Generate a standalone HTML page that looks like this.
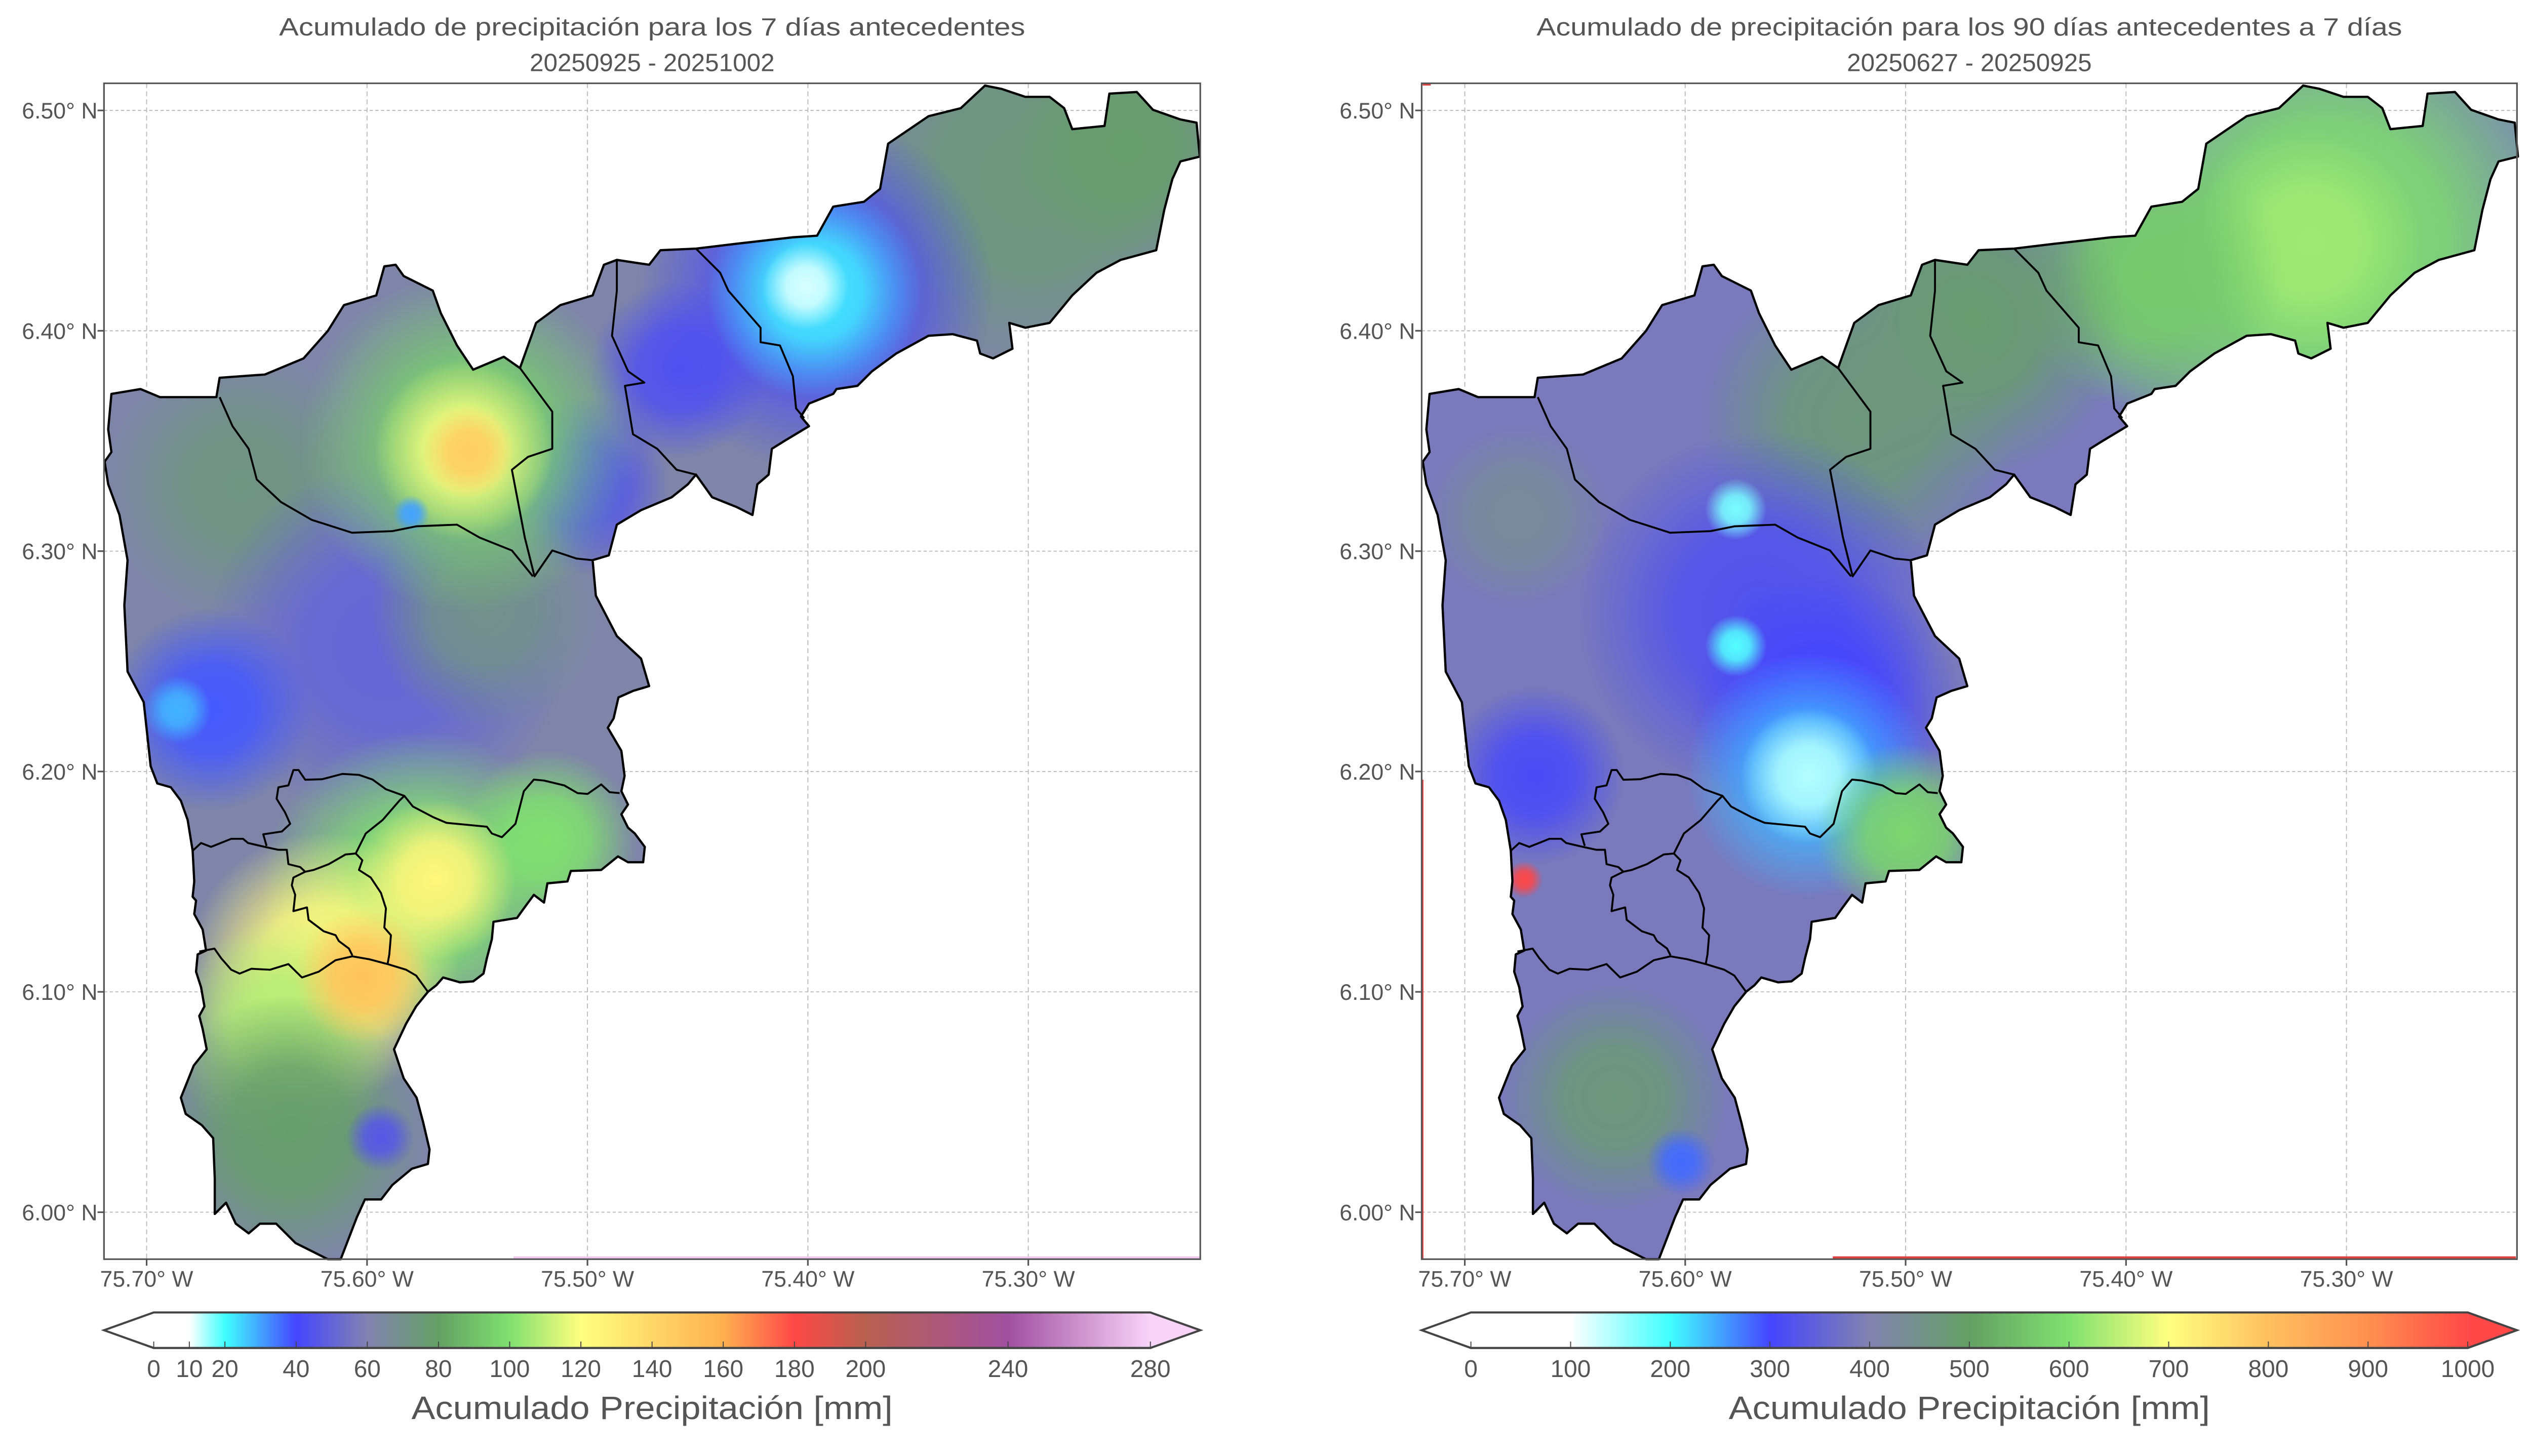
<!DOCTYPE html>
<html><head><meta charset="utf-8"><style>
html,body{margin:0;padding:0;background:#fff;overflow:hidden;}
svg{display:block;position:absolute;left:0;top:0;}
text{font-family:"Liberation Sans",sans-serif;fill:#555;}
</style></head><body>
<svg id="svgroot" xmlns="http://www.w3.org/2000/svg" width="5044" height="2876" viewBox="0 0 5044 2876" preserveAspectRatio="none">
<defs id="defs"></defs>
<g id="root" transform="scale(3.216837)"></g>
</svg>
<script>
// ---- data arrays ----
const latTicks = [6.50, 6.40, 6.30, 6.20, 6.10, 6.00];
const lonTicks = [75.70, 75.60, 75.50, 75.40, 75.30];
const cbTicksLeft = [0, 10, 20, 40, 60, 80, 100, 120, 140, 160, 180, 200, 240, 280];
const cbTicksRight = [0, 100, 200, 300, 400, 500, 600, 700, 800, 900, 1000];
const cmapLeftVals = [0, 10, 20, 40, 60, 80, 100, 120, 160, 180, 200, 240, 280];
const cmapLeftCols = ['#ffffff','#ffffff','#40ffff','#4545ff','#8282b0','#64a064','#80e070','#ffff80','#ffb050','#ff4848','#b86050','#a050a0','#f8d4f8'];
const cmapRightVals = [0, 100, 200, 300, 400, 500, 600, 700, 800, 900, 1000];
const cmapRightCols = ['#ffffff','#ffffff','#40ffff','#4545ff','#8282b0','#64a064','#80e070','#ffff80','#ffc060','#ff9050','#ff4848'];
// blobs: lonW, lat, radius(deg), value
const leftBlobLon = [75.298,75.254,75.459,75.503,75.657,75.591,75.547,75.518,75.576,75.620,75.638,75.635,75.671,75.686,75.397,75.397,75.401,75.554,75.556,75.554,75.580,75.569,75.602,75.594];
const leftBlobLat = [6.470,6.484,6.382,6.330,6.330,6.257,6.272,6.169,6.147,6.111,6.081,6.037,6.228,6.228,6.418,6.418,6.420,6.349,6.346,6.345,6.317,6.151,6.107,6.034];
const leftBlobR   = [0.066,0.037,0.029,0.029,0.044,0.059,0.037,0.029,0.051,0.044,0.037,0.044,0.033,0.011,0.058,0.035,0.014,0.055,0.029,0.015,0.006,0.026,0.022,0.011];
const leftBlobVal = [74,78,44,44,72,50,70,100,100,122,108,78,38,28,42,22,12,95,118,145,30,124,150,46];
const leftBase = 62;
const rightBlobLon = [75.309,75.317,75.390,75.471,75.522,75.676,75.566,75.536,75.668,75.544,75.577,75.577,75.544,75.500,75.632,75.602,75.673];
const rightBlobLat = [6.440,6.440,6.425,6.404,6.360,6.316,6.272,6.228,6.198,6.198,6.319,6.257,6.198,6.172,6.052,6.023,6.151];
const rightBlobR   = [0.088,0.037,0.044,0.051,0.051,0.030,0.059,0.044,0.029,0.040,0.010,0.010,0.022,0.029,0.037,0.011,0.006];
const rightBlobVal = [595,625,565,485,470,430,320,300,310,240,170,190,140,585,470,280,1000];
const rightBase = 385;

// ---- viewport compensation ----
(function(){
  const s=Math.min(1,(window.innerWidth||5044)/5044,(window.innerHeight||2876)/2876);
  const sv=document.getElementById('svgroot');
  sv.setAttribute('width',5044*s);
  sv.setAttribute('height',2876*s);
})();

const NS='http://www.w3.org/2000/svg';
const root=document.getElementById('root');
const defs=document.getElementById('defs');
function el(tag,attrs,parent){const e=document.createElementNS(NS,tag);for(const k in attrs)e.setAttribute(k,attrs[k]);(parent||root).appendChild(e);return e;}
const outline=[[69,244],[87,241],[99,246],[134,246],[136,234],[164,232],[188,222],[203,205],[213,189],[233,183],[238,165],[245,164],[250,171],[268,180],[273,194],[283,214],[293,229],[312,221],[322,228],[332,200],[347,189],[367,183],[374,164],[382,161],[402,164],[409,155],[431,154],[456,151],[491,147],[506,146],[516,128],[535,125],[545,117],[550,89],[575,72],[595,67],[610,53],[620,55],[635,60],[650,60],[659,67],[664,80],[684,78],[687,58],[704,57],[714,68],[731,74],[741,76],[743,97],[731,100],[726,111],[721,130],[716,155],[694,161],[679,169],[664,183],[650,200],[635,203],[625,200],[627,216],[615,222],[607,219],[605,211],[590,207],[575,208],[555,219],[540,230],[531,239],[518,241],[516,244],[501,250],[496,258],[501,264],[486,273],[478,278],[476,294],[469,300],[466,319],[456,314],[441,308],[431,294],[426,300],[416,308],[397,316],[382,325],[377,344],[367,347],[369,369],[382,394],[397,408],[402,425],[392,428],[383,432],[380,445],[376.4,450.8],[384.8,465.1],[386.8,480.6],[384.8,490.1],[388.9,498.4],[384.8,504.4],[388.9,512.7],[393.1,516.3],[399.3,524.6],[398.3,534.1],[388.9,534.1],[382.7,530.5],[372.3,538.9],[353.5,539.5],[351.4,546],[339,547.2],[336.9,559.1],[330.6,554.3],[324.4,562.7],[320.2,568.6],[305.6,571],[304.6,581.7],[301.5,593.6],[299.4,603.1],[293.1,607.9],[284.8,608.5],[274.4,605.5],[270.2,610.3],[265,614.4],[257.7,623.4],[251.5,634.1],[244,650],[250,668],[258,680],[262,695],[266,712],[265,721],[255,724],[243,734],[236,743],[226,743],[221,754],[211,780],[203,780],[193,775],[183,770],[171,758],[161,758],[154,764],[146,758],[140,745],[133,752],[133,730],[132,705],[125,697],[115,690],[112,680],[120,660],[128,650],[125.5,637.4],[123.4,629.3],[126.6,623.4],[124.5,611.5],[121.4,601.9],[122.4,591.2],[127.6,588.8],[125.5,575.8],[120.3,566.2],[121.4,557.9],[119.3,555.5],[120.3,546],[119.3,527],[116.2,507.9],[112,496],[105.8,487.7],[97.4,485.3],[93.3,474.6],[89,435],[79,416],[77,375],[79,347],[74,319],[67,300],[64.8,286],[69,280],[67,266]];
const inner=[
[[136,246],[144,264],[154,278],[159,297],[174,311],[193,322],[218,330],[243,329],[258,326],[283,325],[297,333],[317,341],[330,357]],
[[322,228],[342,255],[342,278],[327,283],[317,291],[325,333],[331,357],[342,341],[357,346],[367,347]],
[[382,161],[382,180],[379,208],[389,230],[399,237],[387,239],[392,269],[407,278],[419,291],[431,294]],
[[431,154],[446,169],[451,180],[471,203],[471,212],[483,214],[491,233],[493,253],[498,259]],
[[119.3,527],[124.5,522.2],[130.7,524.6],[143.2,519.6],[150.5,519.6],[153.6,522.2],[164,524.6],[172.4,526.4],[177.6,526.4],[178.6,535.3],[185.9,537.1],[189,540],[194.2,538.9],[203.6,535.3],[214,529.3],[220.3,528.7],[226.5,516.3],[236.9,508],[247.3,496],[250.4,493],[255.7,499.6],[268.1,506.1],[276.5,509.7],[289,510.9],[301.5,512.1],[304.6,516.3],[310.8,518.6],[319.2,510.3],[324.4,490.1],[330.6,482.9],[336.8,483.5],[349.4,486.5],[357.7,491.3],[363.9,491.8],[372.3,485.9],[377.5,490.7],[383.7,491.3]],
[[250.4,493],[239,488.9],[230.7,482.9],[222.3,480],[212,479.4],[199.4,482.7],[189,483],[184.9,477],[181.7,477],[178.6,486.5],[172.4,487.7],[171.3,494.8],[176.5,503.2],[179.7,510.3],[174.5,515.1],[163,516.8],[165.1,524]],
[[220.3,528.7],[224.4,532.9],[222.3,538.9],[229.6,543.6],[235.9,553.1],[239,562.7],[238,574.6],[242.1,579.3],[241.1,591.2],[240,597.2]],
[[189,540],[181.7,543.6],[180.7,548.4],[182.8,554.3],[181.7,564.4],[190.1,562.1],[191.1,569.8],[200.5,576.9],[207.8,579.3],[209.8,582.9],[216.1,587.6],[218.2,591.8]],
[[123.4,589.4],[132.8,587.6],[137,593.6],[143.2,600.7],[148.4,603.1],[155.7,600.1],[167.2,600.7],[178.6,597.2],[187,605.5],[197.4,601.9],[207.8,594.8],[218.2,592.4],[228.6,594.2],[240,597.2],[251.5,600.7],[257.7,604.3],[265,614.4]]
];
function pts(a){return a.map(p=>p[0].toFixed(1)+','+p[1].toFixed(1)).join(' ');}
function hex2rgb(h){return [1,3,5].map(i=>parseInt(h.substr(i,2),16));}
function cmap(v,vals,cols){
  if(v<=vals[0])return cols[0]; if(v>=vals[vals.length-1])return cols[cols.length-1];
  for(let i=0;i<vals.length-1;i++){if(v<=vals[i+1]){const t=(v-vals[i])/(vals[i+1]-vals[i]);const a=hex2rgb(cols[i]),b=hex2rgb(cols[i+1]);return 'rgb('+a.map((x,j)=>Math.round(x+(b[j]-x)*t)).join(',')+')';}}
}
const SC=1365;
const Y0=68.4;
const AX_T=51.6, AX_B=780;
const panels=[
 {id:'left',x0:64.4,x1:743.3,lon0x:90.8,off:0,title1:'Acumulado de precipitación para los 7 días antecedentes',title2:'20250925 - 20251002',tl:462,
  blobLon:leftBlobLon,blobLat:leftBlobLat,blobR:leftBlobR,blobVal:leftBlobVal,base:leftBase,vals:cmapLeftVals,cols:cmapLeftCols,ticks:cbTicksLeft,cbx0:95.2,cbx1:712.4,vmax:280,extR:'#f8d4f8'},
 {id:'right',x0:880.4,x1:1558.7,lon0x:907.1,off:816.3,title1:'Acumulado de precipitación para los 90 días antecedentes a 7 días',title2:'20250627 - 20250925',tl:536,
  blobLon:rightBlobLon,blobLat:rightBlobLat,blobR:rightBlobR,blobVal:rightBlobVal,base:rightBase,vals:cmapRightVals,cols:cmapRightCols,ticks:cbTicksRight,cbx0:910.9,cbx1:1528.2,vmax:1000,extR:'#ff4848'}
];
panels.forEach(P=>{
  const xOf=lonW=>P.lon0x+(75.70-lonW)*SC;
  const yOf=lat=>Y0+(6.50-lat)*SC;
  const cx=(P.x0+P.x1)/2;
  const g=el('g',{});
  
  
  const t1=el('text',{x:cx,y:22,'text-anchor':'middle','font-size':15.5,textLength:P.tl,lengthAdjust:'spacingAndGlyphs'},g);t1.textContent=P.title1;
  
  
  const t2=el('text',{x:cx,y:44,'text-anchor':'middle','font-size':15.5},g);t2.textContent=P.title2;
  
  
  latTicks.forEach(lat=>{const y=yOf(lat);
    const l=el('line',{x1:P.x0,x2:P.x1,y1:y,y2:y,stroke:'#bbb','stroke-width':0.6,'stroke-dasharray':'2,1.5'},g);
    
    
    el('line',{x1:P.x0-4,x2:P.x0,y1:y,y2:y,stroke:'#555','stroke-width':1},g);
    const tx=el('text',{x:P.x0-4,y:y+5,'text-anchor':'end','font-size':14},g);tx.textContent=lat.toFixed(2)+'° N';
    
    
  });
  lonTicks.forEach(lon=>{const x=xOf(lon);
    const l=el('line',{x1:x,x2:x,y1:AX_T,y2:AX_B,stroke:'#bbb','stroke-width':0.6,'stroke-dasharray':'3,2'},g);
    
    
    el('line',{x1:x,x2:x,y1:AX_B,y2:AX_B+4,stroke:'#555','stroke-width':1},g);
    const tx=el('text',{x:x,y:797,'text-anchor':'middle','font-size':14},g);tx.textContent=lon.toFixed(2)+'° W';
    
    
  });
  const cp=el('clipPath',{id:'clip-'+P.id},defs);
  el('polygon',{points:pts(outline),transform:'translate('+P.off+',0)'},cp);
  const field=el('g',{'clip-path':'url(#clip-'+P.id+')'},g);
  
  
  el('polygon',{points:pts(outline),transform:'translate('+P.off+',0)',fill:cmap(P.base,P.vals,P.cols)},field);
  P.blobVal.forEach((v,i)=>{
    const gid='rg-'+P.id+'-'+i;const col=cmap(v,P.vals,P.cols);
    const rg=el('radialGradient',{id:gid},defs);
    el('stop',{offset:0,'stop-color':col,'stop-opacity':1},rg);
    el('stop',{offset:0.45,'stop-color':col,'stop-opacity':0.85},rg);
    el('stop',{offset:1,'stop-color':col,'stop-opacity':0},rg);
    const c=el('circle',{cx:xOf(P.blobLon[i]),cy:yOf(P.blobLat[i]),r:P.blobR[i]*SC*1.4,fill:'url(#'+gid+')'},field);
    
    
  });
  const ob=el('polygon',{points:pts(outline),transform:'translate('+P.off+',0)',fill:'none',stroke:'#000','stroke-width':1.4,'stroke-linejoin':'round'},g);
  
  
  inner.forEach(line=>{
    const pl=el('polyline',{points:pts(line),transform:'translate('+P.off+',0)',fill:'none',stroke:'#000','stroke-width':1.2,'stroke-linejoin':'round'},g);
    
    
  });
  if(P.id==='left'){el('line',{x1:318,x2:743,y1:779,y2:779,stroke:'#f0c8f0','stroke-width':1.5},g);}
  else{el('line',{x1:1135,x2:1558,y1:779,y2:779,stroke:'#e04040','stroke-width':1.5},g);el('line',{x1:881,x2:881,y1:483,y2:780,stroke:'#e04040','stroke-width':1},g);el('line',{x1:881,x2:886,y1:52.5,y2:52.5,stroke:'#e04040','stroke-width':1},g);}
  const fr=el('rect',{x:P.x0,y:AX_T,width:P.x1-P.x0,height:AX_B-AX_T,fill:'none',stroke:'#555','stroke-width':1},g);
  
  
  const cb=el('g',{},g);
  
  
  const lgid='lg-'+P.id;
  const lg=el('linearGradient',{id:lgid,x1:0,x2:1,y1:0,y2:0},defs);
  P.vals.forEach((v,i)=>el('stop',{offset:v/P.vmax,'stop-color':P.cols[i]},lg));
  const cy0=813,cy1=835,cym=(cy0+cy1)/2;
  el('rect',{x:P.cbx0,y:cy0,width:P.cbx1-P.cbx0,height:cy1-cy0,fill:'url(#'+lgid+')'},cb);
  el('polygon',{points:P.x0+','+cym+' '+P.cbx0+','+cy0+' '+P.cbx0+','+cy1,fill:'#fff'},cb);
  el('polygon',{points:P.x1+','+cym+' '+P.cbx1+','+cy0+' '+P.cbx1+','+cy1,fill:P.extR},cb);
  el('polygon',{points:P.x0+','+cym+' '+P.cbx0+','+cy0+' '+P.cbx1+','+cy0+' '+P.x1+','+cym+' '+P.cbx1+','+cy1+' '+P.cbx0+','+cy1,fill:'none',stroke:'#444','stroke-width':1.3},cb);
  const cbX=v=>P.cbx0+(P.cbx1-P.cbx0)*v/P.vmax;
  P.ticks.forEach(v=>{const x=cbX(v);
    el('line',{x1:x,x2:x,y1:cy1-4,y2:cy1,stroke:'#444','stroke-width':0.6},cb);
    const tx=el('text',{x:x,y:853,'text-anchor':'middle','font-size':15},cb);tx.textContent=String(v);
    
    
  });
  const lab=el('text',{x:(P.cbx0+P.cbx1)/2,y:879,'text-anchor':'middle','font-size':20,textLength:298,lengthAdjust:'spacingAndGlyphs'},cb);
  lab.textContent='Acumulado Precipitación [mm]';
  
  
});
</script>
</body></html>
